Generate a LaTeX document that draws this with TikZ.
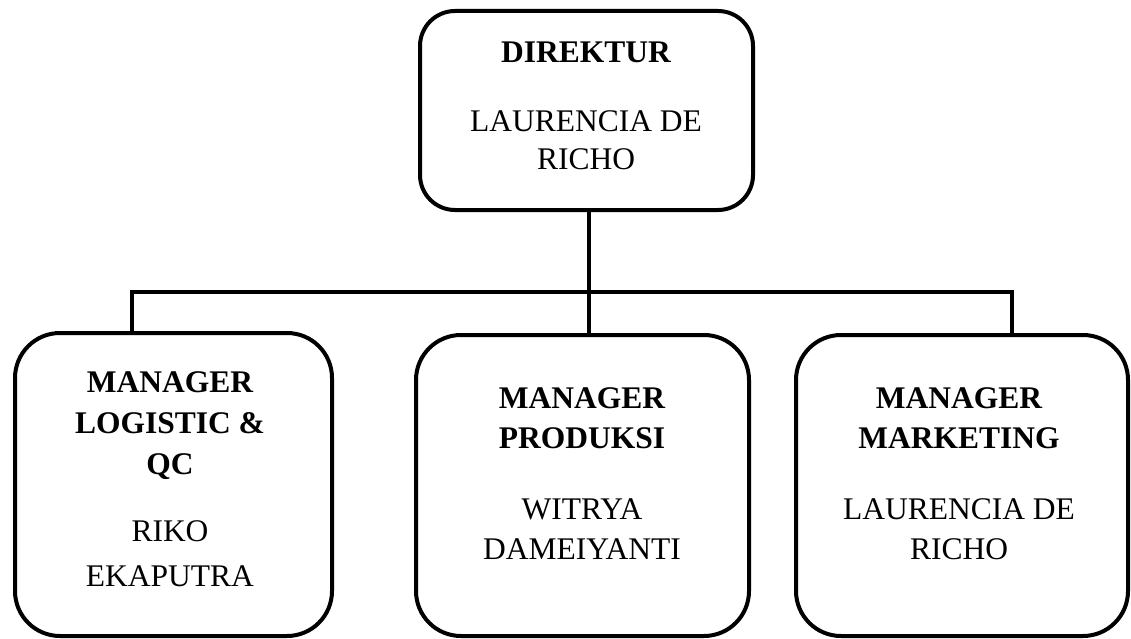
\documentclass[tikz,border=0pt]{standalone}
\usepackage{fontspec}
\setmainfont{Liberation Serif}
\begin{document}
\begin{tikzpicture}[x=1pt,y=-1pt,
  orgbox/.style={draw=black,line width=4pt,rounded corners=#1,inner sep=0pt,fill=none},
  orgbox/.default=45pt,
  conn/.style={draw=black,line width=3.5pt},
  txt/.style={anchor=base,inner sep=0pt,font=\fontsize{31.5}{38}\selectfont},
  btxt/.style={txt,font=\fontsize{31.5}{38}\selectfont\bfseries}]
\useasboundingbox[fill=white] (0,0) rectangle (1131,639);

% boxes
\node[orgbox=35pt,minimum width=333pt,minimum height=199pt] (dir) at (586.5,110.5) {};
\node[orgbox,minimum width=317pt,minimum height=303pt] (log) at (173.5,484.5) {};
\node[orgbox,minimum width=333pt,minimum height=301pt] (prod) at (582.5,485.5) {};
\node[orgbox,minimum width=332pt,minimum height=301pt] (mkt) at (962,485.5) {};

% connectors
\coordinate (jc) at (589,292);
\coordinate (jl) at (132,292);
\coordinate (jr) at (1012,292);
\draw[conn] (dir.south -| jc) -- (jc);
\draw[conn,line cap=rect] (jl) -- (jr);
\draw[conn] (jl) -- (log.north -| jl);
\draw[conn] (jc) -- (prod.north -| jc);
\draw[conn] (jr) -- (mkt.north -| jr);

% texts: direktur
\node[btxt] (t1) at (586,63) {DIREKTUR};
\node[txt] (t2) at (586,132) {LAURENCIA DE};
\node[txt] (t3) at (586,170) {RICHO};

% logistic
\node[btxt] (l1) at (170,392) {MANAGER};
\node[btxt] (l2) at (170,433) {LOGISTIC \&};
\node[btxt] (l3) at (170,474) {QC};
\node[txt] (l4) at (170,541) {RIKO};
\node[txt] (l5) at (170,586) {EKAPUTRA};

% produksi
\node[btxt] (p1) at (582,408) {MANAGER};
\node[btxt] (p2) at (582,448) {PRODUKSI};
\node[txt] (p3) at (582,519) {WITRYA};
\node[txt] (p4) at (582,559) {DAMEIYANTI};

% marketing
\node[btxt] (m1) at (959,408) {MANAGER};
\node[btxt] (m2) at (959,448) {MARKETING};
\node[txt] (m3) at (959,519) {LAURENCIA DE};
\node[txt] (m4) at (959,559) {RICHO};
\end{tikzpicture}
\end{document}
